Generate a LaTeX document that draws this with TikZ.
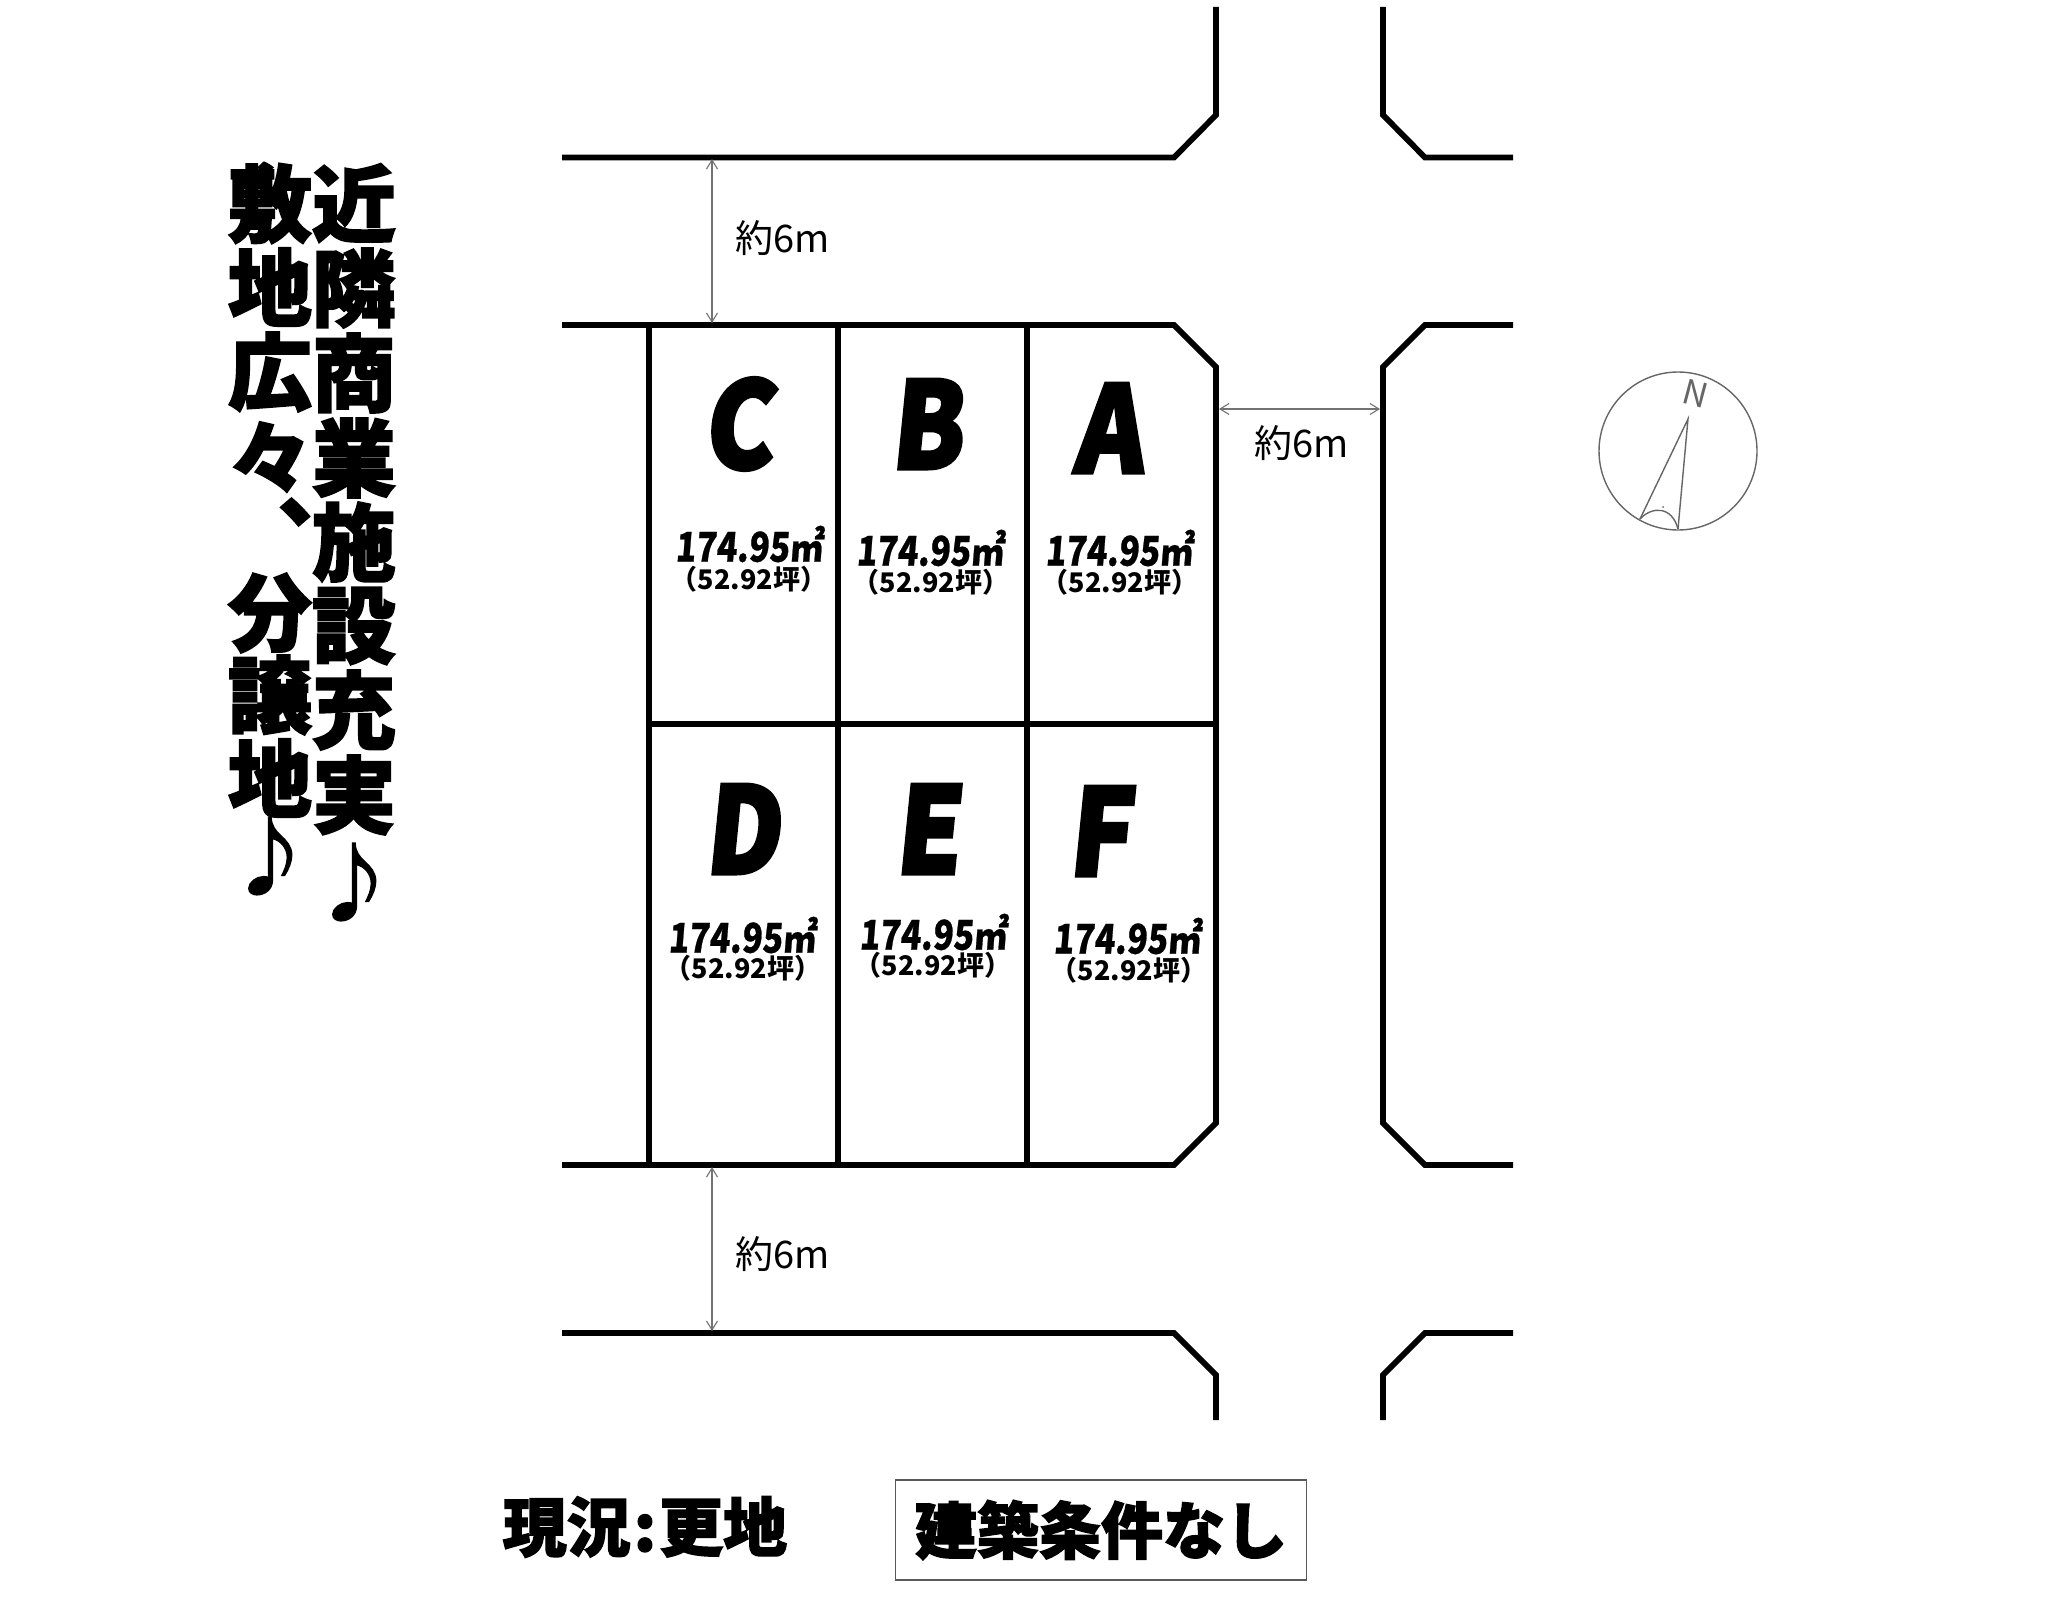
\documentclass[tikz,border=0pt]{standalone}
\usepackage{fontspec}
\usetikzlibrary{arrows.meta}
\newfontfamily\jpblack{Noto Sans CJK JP Black}[FakeBold=2.2]
\newfontfamily\jpnum{Noto Sans CJK JP Black}[FakeStretch=0.82,FakeSlant=0.08,FakeBold=0.6]
\newfontfamily\jpsub{Noto Sans CJK JP Black}[FakeStretch=1.0]
\newfontfamily\jpreg{Noto Sans CJK JP}
\newfontfamily\letterfont{Noto Sans CJK JP Black}[FakeBold=3,FakeStretch=0.86,FakeSlant=0.1]
\tikzset{
  road/.style={line width=5.8pt,line cap=butt,line join=miter,draw=black},
  thin dim/.style={draw=black!55,line width=1.1pt,{Straight Barb[length=9pt,width=11pt]}-{Straight Barb[length=9pt,width=11pt]}},
  bigchar/.style={font=\jpblack\fontsize{84}{84}\selectfont,inner sep=0pt},
  lotletter/.style={font=\letterfont\fontsize{120}{120}\selectfont,inner sep=0pt},
  areatext/.style={font=\jpnum\fontsize{41}{41}\selectfont,inner sep=0pt},
  subtext/.style={font=\jpsub\fontsize{27}{27}\selectfont,inner sep=0pt},
  dimtext/.style={font=\jpreg\fontsize{38}{38}\selectfont,inner sep=0pt},
  compassline/.style={draw=black!60,line width=1.4pt},
}
\begin{document}
\begin{tikzpicture}[x=1pt,y=-1pt]
\useasboundingbox[fill=white] (0,0) rectangle (2048,1616);
% top roads
\draw[road] (562,157.5) -- (1174,157.5) -- (1216,115) -- (1216,7);
\draw[road] (1383,7) -- (1383,115) -- (1425,157.5) -- (1513,157.5);
% centre block
\draw[road] (562,325) -- (1174,325) -- (1216,367) -- (1216,1123) -- (1174,1165) -- (562,1165);
\draw[road] (1513,325) -- (1425,325) -- (1383,367) -- (1383,1123) -- (1425,1165) -- (1513,1165);
% bottom roads
\draw[road] (562,1333) -- (1174,1333) -- (1216,1375) -- (1216,1420);
\draw[road] (1513,1333) -- (1425,1333) -- (1383,1375) -- (1383,1420);
% lots
\draw[road] (649,325) -- (649,1165);
\draw[road] (838,325) -- (838,1165);
\draw[road] (1027,325) -- (1027,1165);
\draw[road] (649,724) -- (1216,724);
% dimensions
\coordinate (d1a) at (712,159); \coordinate (d1b) at (712,323);
\coordinate (d2a) at (712,1167); \coordinate (d2b) at (712,1331);
\coordinate (d3a) at (1219,409); \coordinate (d3b) at (1380,409);
\draw[thin dim] (d1a) -- (d1b);
\draw[thin dim] (d2a) -- (d2b);
\draw[thin dim] (d3a) -- (d3b);
\node[dimtext] (t1) at (783,238) {約6m};
\node[dimtext] (t2) at (783,1254) {約6m};
\node[dimtext] (t3) at (1302,443) {約6m};
% letters
\node[lotletter] (lc) at (738,424) {C};
\node[lotletter] (lb) at (926,424) {B};
\node[lotletter] (la) at (1108,428) {A};
\node[lotletter] (ld) at (742,829) {D};
\node[lotletter] (le) at (927,829) {E};
\node[lotletter] (lf) at (1099,831) {F};
% areas
\foreach \nm/\x/\y in {c/749/544,b/930/548,a/1119/548,d/742/935,e/933/932,f/1127/936}
  \node[areatext] (ar\nm) at (\x,\y) {174.95㎡};
\foreach \nm/\x/\y in {c/749/579,b/931/582,a/1120/582,d/743/968,e/933/965,f/1129/970}
  \node[subtext] (su\nm) at (\x,\y) {（52.92坪）};
% slogans
\foreach \c/\y [count=\i] in {近/203,隣/288,商/373,業/458,施/542,設/626,充/710,実/795,♪/882}
  \node[bigchar] (ra\i) at (354,\y) {\c};
\foreach \c/\y [count=\i] in {敷/203,地/287,広/372,々/457}
  \node[bigchar] (rb\i) at (270,\y) {\c};
\node[bigchar] (rbcomma) at (320,512) {、};
\foreach \c/\y [count=\i] in {分/613,譲/695,地/778,♪/856}
  \node[bigchar] (rc\i) at (270,\y) {\c};
% bottom
\node[font=\jpblack\fontsize{64}{64}\selectfont,inner sep=0pt] (gen) at (645,1527) {現況\hspace{3pt}:\hspace{3pt}更地};
\node[draw=black!65,line width=1.4pt,minimum width=411pt,minimum height=100pt,inner sep=0pt,font=\jpblack\fontsize{62}{62}\selectfont] (cond) at (1101,1530) {建築条件なし};
% compass
\node[draw=black!60,line width=1.4pt,circle,minimum size=158pt,inner sep=0pt] (comp) at (1678,451) {};
\coordinate (tip) at (1688,419);
\coordinate (nl) at (1640,519);
\coordinate (nr) at (1678,529);
\draw[compassline] (nl) -- (tip) -- (nr);
\draw[compassline] (nl) .. controls (1652,506) and (1672,506) .. (nr);
\fill[black!60] (1663,507) circle (1pt);
\node[font=\jpreg\fontsize{34}{34}\selectfont,text=black!60,rotate=-15,inner sep=0pt] (north) at (1696,394) {N};
\end{tikzpicture}
\end{document}
